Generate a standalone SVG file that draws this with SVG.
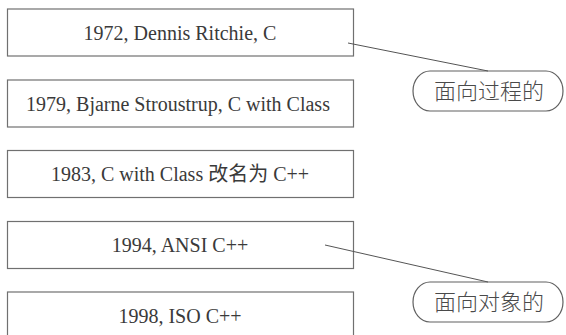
<svg xmlns="http://www.w3.org/2000/svg" width="566" height="335" viewBox="0 0 566 335">
  <style>
    .box { fill: #ffffff; stroke: #707070; stroke-width: 1.2; }
    .lbl { font-family: "Liberation Serif", "Noto Sans CJK SC", serif; font-size: 20px; fill: #3a3a3a; text-anchor: middle; }
    .pill { fill: #ffffff; stroke: #606060; stroke-width: 1.2; }
    .tag { font-family: "Noto Sans CJK SC", sans-serif; font-size: 22px; font-weight: 300; fill: #4a4a4a; text-anchor: middle; }
    .conn { stroke: #555555; stroke-width: 1; fill: none; }
  </style>
  <rect width="566" height="335" fill="#ffffff"/>

  <!-- timeline boxes -->
  <g id="n1972">
    <rect class="box" x="7.5" y="9" width="346" height="47"/>
    <text class="lbl" x="180" y="40">1972, Dennis Ritchie, C</text>
  </g>
  <g id="n1979">
    <rect class="box" x="7.5" y="80" width="346" height="47"/>
    <text class="lbl" x="178" y="111">1979, Bjarne Stroustrup, C with Class</text>
  </g>
  <g id="n1983">
    <rect class="box" x="7.5" y="150.5" width="346" height="47"/>
    <text class="lbl" x="180" y="181">1983, C with Class 改名为 C++</text>
  </g>
  <g id="n1994">
    <rect class="box" x="7.5" y="221.5" width="346" height="47"/>
    <text class="lbl" x="180" y="252">1994, ANSI C++</text>
  </g>
  <g id="n1998">
    <rect class="box" x="7.5" y="292" width="346" height="50"/>
    <text class="lbl" x="180" y="323">1998, ISO C++</text>
  </g>

  <!-- paradigm tags -->
  <g id="procedural">
    <rect class="pill" x="413" y="71" width="150" height="40" rx="17" ry="20"/>
    <text class="tag" x="489" y="99">面向过程的</text>
  </g>
  <g id="object-oriented">
    <rect class="pill" x="413" y="282" width="150" height="40" rx="17" ry="20"/>
    <text class="tag" x="489" y="310">面向对象的</text>
  </g>

  <!-- leader lines -->
  <g id="connectors">
    <line class="conn" x1="348" y1="43" x2="488" y2="71"/>
    <line class="conn" x1="325" y1="245" x2="488" y2="282"/>
  </g>
</svg>
